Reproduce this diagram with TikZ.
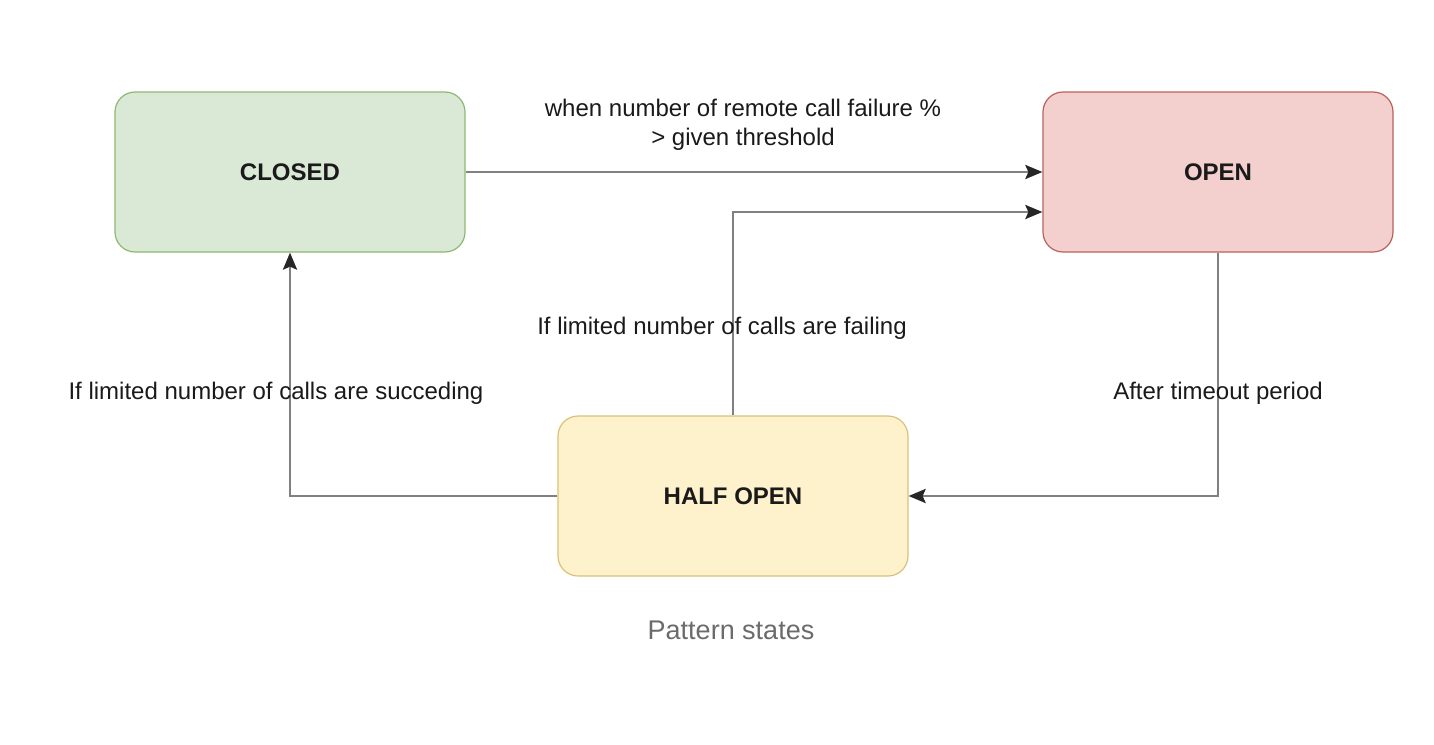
\documentclass[tikz,border=0pt]{standalone}
\usepackage{fontspec}
\setmainfont{Liberation Sans}
\usetikzlibrary{arrows.meta}
\definecolor{gfill}{HTML}{D9E9D5}
\definecolor{gdraw}{HTML}{8DB871}
\definecolor{rfill}{HTML}{F3CFCD}
\definecolor{rdraw}{HTML}{B9615D}
\definecolor{yfill}{HTML}{FDF2CC}
\definecolor{ydraw}{HTML}{D8C27A}
\definecolor{edgecol}{HTML}{808080}
\definecolor{txtcol}{HTML}{1A1A1A}
\definecolor{capcol}{HTML}{6B6B6B}
\tikzset{
  state/.style={rounded corners=10pt, minimum width=175pt, minimum height=80pt, line width=0.6pt,
    font=\fontsize{12}{14}\selectfont\bfseries, text=txtcol, inner sep=0pt},
  conn/.style={draw=edgecol, line width=1.4pt, -{Stealth[length=8.5pt,width=7pt,inset=1.5pt,color=black!85]}},
  lbl/.style={font=\fontsize{12}{15}\selectfont, text=txtcol, align=center, inner sep=0pt}
}
\begin{document}
\begin{tikzpicture}[x=0.5pt,y=-0.5pt]
\useasboundingbox (0,0) rectangle (1434,744);
\node[state, fill=gfill, draw=gdraw] (closed) at (290,172) {CLOSED};
\node[state, fill=rfill, draw=rdraw] (open) at (1218,172) {OPEN};
\node[state, fill=yfill, draw=ydraw] (half) at (733,496) {HALF OPEN};
\coordinate (c1) at (733,212);
\coordinate (c2) at (290,496);
\coordinate (c3) at (1218,496);
\coordinate (oin) at (open.west |- c1);
\draw[conn] (closed.east) -- (open.west);
\draw[conn] (half.north) -- (c1) -- (oin);
\draw[conn] (half.west) -- (c2) -- (closed.south);
\draw[conn] (open.south) -- (c3) -- (half.east);
\node[lbl] (l1) at (743,125) {when number of remote call failure \%\\[-0.5pt]{>} given threshold};
\node[lbl] (l2) at (722,328) {If limited number of calls are failing};
\node[lbl] (l3) at (276,393) {If limited number of calls are succeding};
\node[lbl] (l4) at (1218,393) {After timeout period};
\node[font=\fontsize{13.5}{16}\selectfont, text=capcol, inner sep=0pt] (cap) at (731,630) {Pattern states};
\end{tikzpicture}
\end{document}
